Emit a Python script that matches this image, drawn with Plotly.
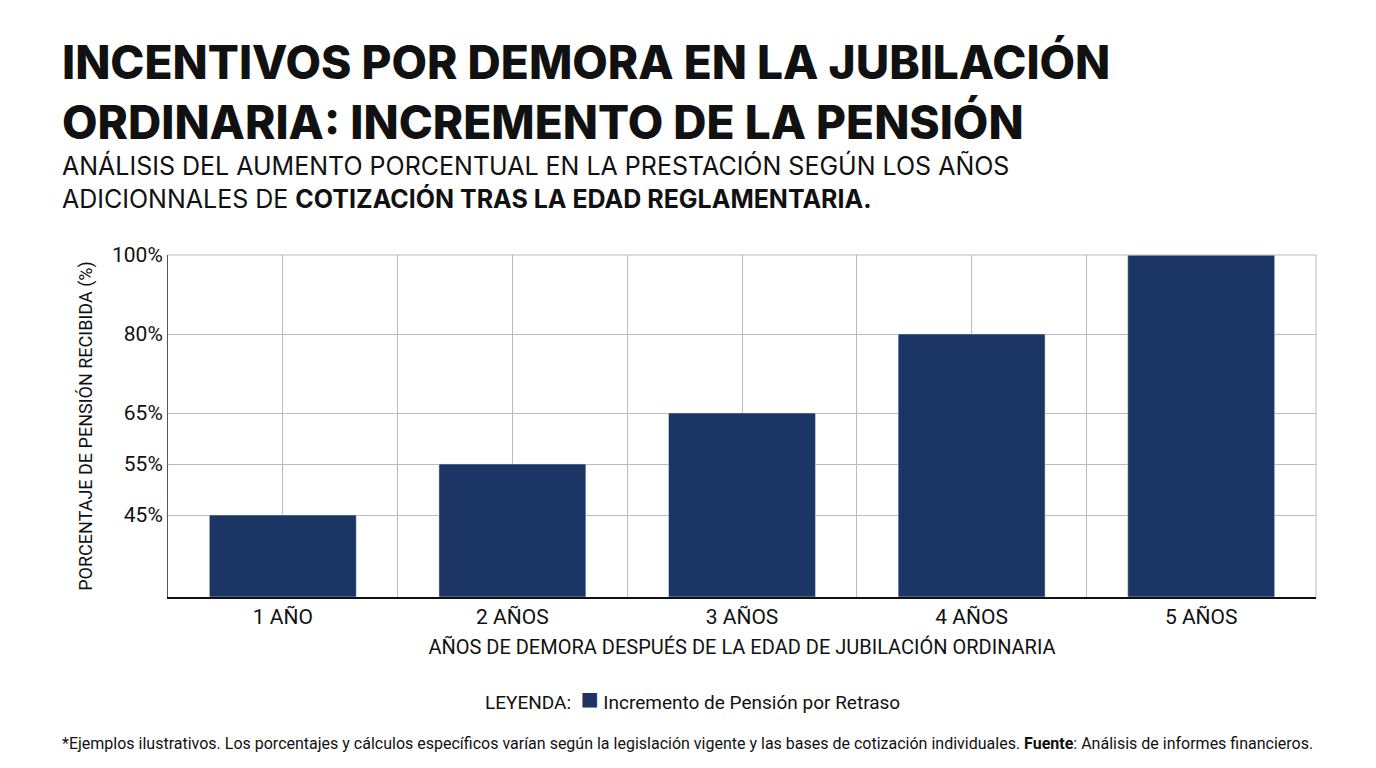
import plotly.graph_objects as go
import numpy as np

categories = ["1 AÑO", "2 AÑOS", "3 AÑOS", "4 AÑOS", "5 AÑOS"]
values = [45, 55, 65, 80, 100]
tick_values = [45, 55, 65, 80, 100]
tick_labels = ["45%", "55%", "65%", "80%", "100%"]

# The reference uses a non-linear (piecewise) vertical scale; anchors: value -> display position
anchor_vals = [29, 45, 55, 65, 80, 100]
anchor_pos = [0, 82, 133, 184, 263, 342]
def scale(v):
    return float(np.interp(v, anchor_vals, anchor_pos))

BAR = "#1b3564"
x = list(range(len(categories)))
fig = go.Figure()
fig.add_trace(go.Bar(x=x, y=[scale(v) for v in values], width=0.64,
                     marker_color=BAR, name="Incremento de Pensión por Retraso",
                     customdata=values, hovertemplate="%{customdata}%<extra></extra>"))

xt = [i * 0.5 - 0.5 for i in range(11)]
xl = ["" if (i % 2 == 0) else categories[i // 2] for i in range(11)]

fig.update_layout(
    width=1376, height=768, plot_bgcolor="white", paper_bgcolor="white",
    margin=dict(l=160, r=68, t=247, b=179),
    font=dict(family="Roboto", color="#111"),
    showlegend=False,
    xaxis=dict(range=[-0.5, 4.5], tickvals=xt, ticktext=xl, showgrid=True, automargin=False,
               gridcolor="#bbbbbb", gridwidth=1, tickfont=dict(size=21),
               showline=True, linecolor="#111", linewidth=1.5, ticks="",
               title=dict(text="AÑOS DE DEMORA DESPUÉS DE LA EDAD DE JUBILACIÓN ORDINARIA",
                          font=dict(size=20), standoff=12), zeroline=False),
    yaxis=dict(range=[0, 342], tickvals=[scale(v) for v in tick_values], ticktext=tick_labels,
               showgrid=True, gridcolor="#bbbbbb", tickfont=dict(size=21), automargin=False,
               showline=True, linecolor="#555", ticks="", zeroline=False,
               title=dict(text="PORCENTAJE DE PENSIÓN RECIBIDA (%)", font=dict(size=18), standoff=14)),
)
fig.add_shape(type="line", xref="paper", yref="paper", x0=0, x1=1, y0=1, y1=1,
              line=dict(color="#bbbbbb", width=1))
fig.add_shape(type="line", xref="paper", yref="paper", x0=1, x1=1, y0=0, y1=1,
              line=dict(color="#bbbbbb", width=1))

fig.add_annotation(xref="paper", yref="paper", x=-0.094, y=1.477, xanchor="left", yanchor="middle",
                   showarrow=False, align="left",
                   text="INCENTIVOS POR DEMORA EN LA JUBILACIÓN<br>ORDINARIA: INCREMENTO DE LA PENSIÓN",
                   font=dict(family="Inter", size=46, color="#111", weight=800))
fig.add_annotation(xref="paper", yref="paper", x=-0.094, y=1.213, xanchor="left", yanchor="middle",
                   showarrow=False, align="left",
                   text="ANÁLISIS DEL AUMENTO PORCENTUAL EN LA PRESTACIÓN SEGÚN LOS AÑOS<br>ADICIONNALES DE <b>COTIZACIÓN TRAS LA EDAD REGLAMENTARIA.</b>",
                   font=dict(family="Inter", size=25, color="#111"))
fig.add_annotation(xref="paper", yref="paper", x=0.274, y=-0.298, xanchor="left", yanchor="middle",
                   showarrow=False,
                   text=f"LEYENDA:  <span style='color:{BAR};font-size:30px'>■</span> Incremento de Pensión por Retraso",
                   font=dict(size=19))
fig.add_annotation(xref="paper", yref="paper", x=-0.094, y=-0.427, xanchor="left", yanchor="middle",
                   showarrow=False,
                   text="*Ejemplos ilustrativos. Los porcentajes y cálculos específicos varían según la legislación vigente y las bases de cotización individuales. <b>Fuente</b>: Análisis de informes financieros.",
                   font=dict(size=16))
fig.write_html("out.html")
